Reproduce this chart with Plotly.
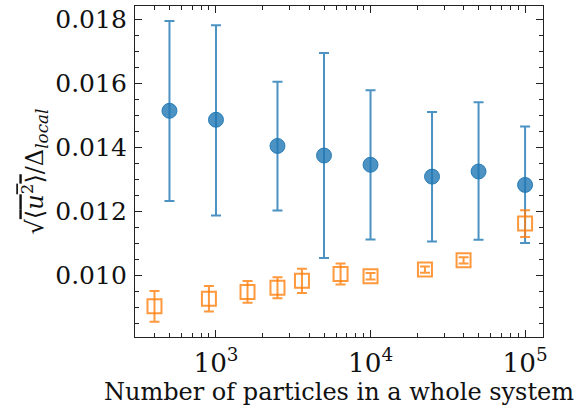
import plotly.graph_objects as go

# Blue series (circles)
n_blue = [500, 1000, 2500, 5000, 10000, 25000, 50000, 100000]
v_blue = [0.01515, 0.01487, 0.01405, 0.01375, 0.01346, 0.01309, 0.01325, 0.01283]
err_blue_up = [0.00281, 0.00296, 0.00201, 0.00321, 0.00233, 0.00202, 0.00217, 0.00183]
err_blue_dn = [0.00282, 0.00300, 0.00202, 0.00321, 0.00234, 0.00203, 0.00214, 0.00182]

# Orange series (open squares)
n_orange = [400, 900, 1600, 2500, 3600, 6400, 10000, 22500, 40000, 100000]
v_orange = [0.00903, 0.00927, 0.00948, 0.00961, 0.00983, 0.01004, 0.00997, 0.01018, 0.01047, 0.01162]
err_orange = [0.00048, 0.00040, 0.00034, 0.00033, 0.00038, 0.00033, 0.00010, 0.00010, 0.00010, 0.00042]

FONT = "DejaVu Serif"
BLUE = "rgba(31,119,180,0.8)"
ORANGE = "rgba(255,127,14,0.8)"

fig = go.Figure()
fig.add_trace(go.Scatter(
    x=n_blue, y=v_blue, mode="markers",
    marker=dict(symbol="circle", size=15, color=BLUE,
                line=dict(color="rgba(31,119,180,0.9)", width=1)),
    error_y=dict(type="data", symmetric=False, array=err_blue_up, arrayminus=err_blue_dn,
                 color=BLUE, thickness=2, width=5),
    showlegend=False,
))
fig.add_trace(go.Scatter(
    x=n_orange, y=v_orange, mode="markers",
    marker=dict(symbol="square-open", size=14, color=ORANGE, line=dict(width=2)),
    error_y=dict(type="data", array=err_orange, color=ORANGE, thickness=2, width=5),
    showlegend=False,
))

axis_common = dict(
    showline=True, linecolor="#222", linewidth=1.3, mirror="allticks",
    ticks="inside", ticklen=7, tickwidth=1, tickcolor="#222",
    showgrid=False, zeroline=False, automargin=False,
)

fig.update_xaxes(
    type="log", range=[2.476, 5.116], dtick=1, exponentformat="power",
    minor=dict(ticks="inside", ticklen=4, dtick="D1", tickcolor="#222", showgrid=False),
    tickfont=dict(family=FONT, size=21, color="#111"),
    title=dict(text="Number of particles in a whole system",
               font=dict(family=FONT, size=24, color="#111"), standoff=4),
    ticklabelstandoff=3,
    **axis_common,
)
fig.update_yaxes(
    range=[0.00807, 0.01843], dtick=0.002, tick0=0.010, tickformat=".3f",
    minor=dict(ticks="inside", ticklen=4, dtick=0.0005, tickcolor="#222", showgrid=False),
    tickfont=dict(family=FONT, size=25, color="#111"),
    title=dict(text="√<span style='text-decoration:overline'>⟨<i>u</i><sup>2</sup>⟩</span>/Δ<sub><i>local</i></sub>",
               font=dict(family=FONT, size=24, color="#111"), standoff=4),
    ticklabelstandoff=2,
    **axis_common,
)

fig.update_layout(
    width=584, height=406,
    margin=dict(l=135, r=41, t=6, b=69),
    plot_bgcolor="white", paper_bgcolor="white",
)
fig.write_html("out.html", config={"displayModeBar": False},
               post_script="document.body.style.margin='0';")
